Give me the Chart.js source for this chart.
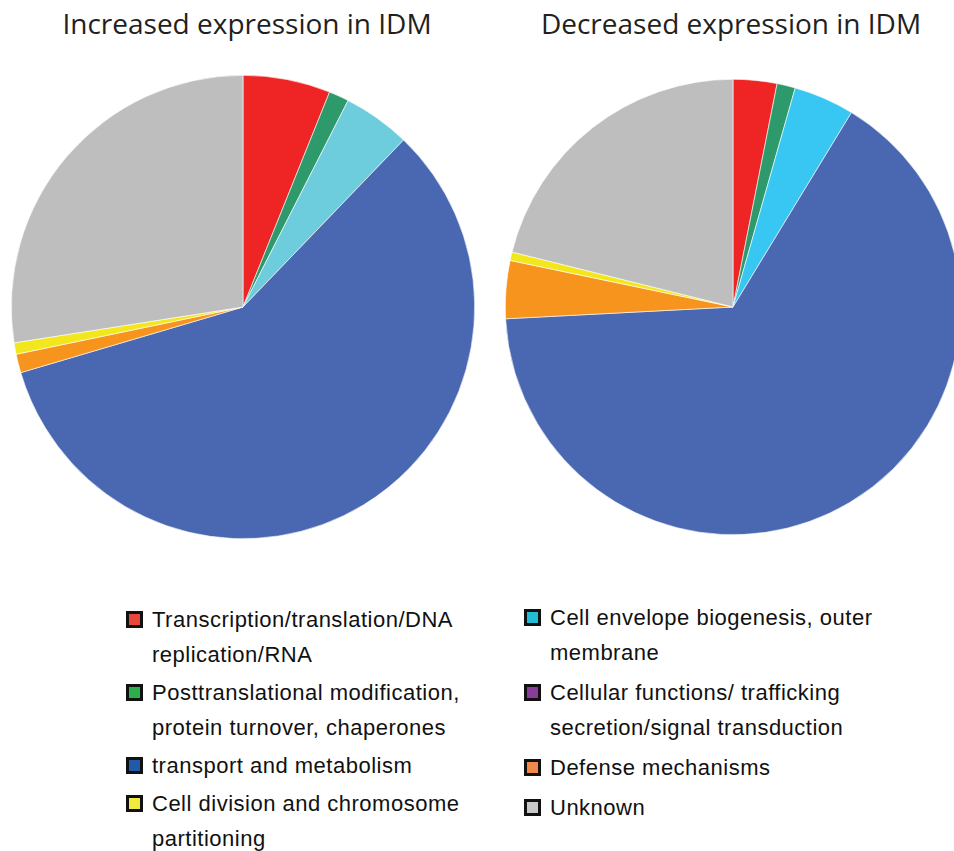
<!DOCTYPE html>
<html>
<head>
<meta charset="utf-8">
<script src="https://cdn.jsdelivr.net/npm/chart.js@4"></script>
<style>
  html, body { margin: 0; padding: 0; background: #fff; }
  body { width: 954px; height: 851px; position: relative; overflow: hidden; }
  .title { position: absolute; top: 4px; font-family: "Open Sans", sans-serif; font-size: 28px; color: #231f20; text-align: center; white-space: nowrap; }
  .pie { position: absolute; }
  .legend { position: absolute; font-family: "Liberation Sans", Arial, Helvetica, sans-serif; font-size: 22px; letter-spacing: 0.5px; color: #111; }
  .item { position: relative; padding-left: 26px; line-height: 35px; white-space: pre-line; }
  .item .box { position: absolute; left: 0; top: 9px; width: 11px; height: 11px; border: 3px solid #111; }
</style>
</head>
<body>
<div class="title" style="left:0; width:494px;">Increased expression in IDM</div>
<div class="title" style="left:486px; width:490px;">Decreased expression in IDM</div>
<div class="pie" style="left:11px; top:75px; width:464px; height:464px;"><canvas id="pie-up"></canvas></div>
<div class="pie" style="left:505px; top:79px; width:456px; height:456px;"><canvas id="pie-down"></canvas></div>
<div class="legend" id="legend-left" style="left:126px; top:602px;"></div>
<div class="legend" id="legend-right" style="left:524px; top:600px;"></div>
<script>
// categories in the order the slices run clockwise from 12 o'clock
var categories = [
    "Transcription/translation/DNA\nreplication/RNA",
    "Posttranslational modification,\nprotein turnover, chaperones",
    "Cell envelope biogenesis, outer\nmembrane",
    "transport and metabolism",
    "Cellular functions/ trafficking\nsecretion/signal transduction",
    "Defense mechanisms",
    "Cell division and chromosome\npartitioning",
    "Unknown"
];
// share of genes (%)
var increasedValues = [6.1, 1.4, 4.7, 58.3, 0, 1.3, 0.8, 27.5];
var decreasedValues = [3.1, 1.3, 4.3, 65.4, 0, 4.1, 0.6, 21.1];

var increasedColors = ["#ee2524", "#2e9a6b", "#6dcddd", "#4a68b1", "#8e3e98", "#f7941d", "#f2e61c", "#bebebe"];
var decreasedColors = ["#ee2524", "#2e9a6b", "#38c6f2", "#4a68b1", "#8e3e98", "#f7941d", "#f2e61c", "#bebebe"];
var legendColors = ["#e8473c", "#2bb04c", "#22bcd4", "#1f5ba8", "#8b3c99", "#f08a4b", "#f0eb3e", "#c8c8c8"];

// legend columns, by category index
var leftColumn = [0, 1, 3, 6];
var rightColumn = [2, 4, 5, 7];

function makePie(id, values, colors) {
    var ctx = document.getElementById(id).getContext("2d");
    return new Chart(ctx, {
        type: "pie",
        data: {
            labels: categories,
            datasets: [{
                data: values,
                backgroundColor: colors,
                borderColor: "#ffffff",
                borderWidth: 0.6
            }]
        },
        options: {
            responsive: true,
            maintainAspectRatio: false,
            animation: false,
            layout: { padding: 0 },
            plugins: {
                legend: { display: false },
                tooltip: { enabled: false }
            }
        }
    });
}

makePie("pie-up", increasedValues, increasedColors);
makePie("pie-down", decreasedValues, decreasedColors);

function buildLegend(el, idxs, gap) {
    idxs.forEach(function (i) {
        var item = document.createElement("div");
        item.className = "item";
        item.style.marginBottom = gap + "px";
        var box = document.createElement("span");
        box.className = "box";
        box.style.background = legendColors[i];
        item.appendChild(box);
        item.appendChild(document.createTextNode(categories[i]));
        el.appendChild(item);
    });
}
buildLegend(document.getElementById("legend-left"), leftColumn, 3);
buildLegend(document.getElementById("legend-right"), rightColumn, 5);
</script>
</body>
</html>
